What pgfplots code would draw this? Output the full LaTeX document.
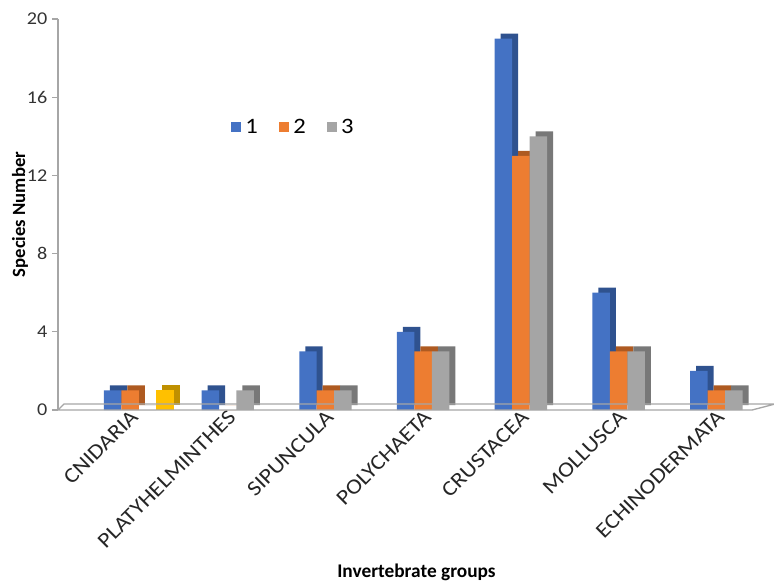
\documentclass[border=0pt]{standalone}
\usepackage{pgfplots}
\pgfplotsset{compat=1.18}
\usepackage{pgfplotstable}
\usepackage{fontspec}
\setmainfont{Carlito}
\newfontfamily\widefont{Carlito}[FakeStretch=1.12]
\definecolor{c1}{HTML}{4472C4}
\definecolor{c2}{HTML}{ED7D31}
\definecolor{c3}{HTML}{A5A5A5}
\definecolor{c4}{HTML}{FFC000}
\definecolor{d1}{HTML}{2F528F}
\definecolor{d2}{HTML}{AE5A21}
\definecolor{d3}{HTML}{787878}
\definecolor{d4}{HTML}{BF9000}
\definecolor{axgray}{HTML}{A6A6A6}
\pgfplotstableread{
x s1 s2 s3
0 1 1 0
1 1 0 1
2 3 1 1
3 4 3 3
4 19 13 14
5 6 3 3
6 2 1 1
}\datatable
\pgfplotstableread{
x s4
0 1
}\extratable
\begin{document}
\begin{tikzpicture}
\useasboundingbox (-43.5pt,-132.75pt) rectangle (537pt,307.5pt);
\begin{axis}[
  scale only axis,
  width=537.75pt, height=293.25pt,
  xmin=-0.737, xmax=6.6,
  ymin=0, ymax=20,
  ybar, bar width=13.1pt,
  clip=false,
  axis x line*=bottom, axis y line*=left,
  x axis line style={draw=none},
  y axis line style={axgray, line width=1pt, -},
  xtick={0,...,6},
  xticklabels={CNIDARIA,PLATYHELMINTHES,SIPUNCULA,POLYCHAETA,CRUSTACEA,MOLLUSCA,ECHINODERMATA},
  x tick style={draw=none},
  ytick={0,4,...,20},
  y tick style={axgray, line width=1pt},
  tick align=outside,
  major tick length=4.5pt,
  /pgf/number format/assume math mode=true,
  yticklabel style={font=\widefont\fontsize{13.5}{16}\selectfont, text=black!80},
  xticklabel style={font=\widefont\fontsize{16}{18}\selectfont, text=black!85, rotate=45, anchor=east, xshift=7pt, yshift=-1pt},
  every axis y label/.style={at={(rel axis cs:0,0.5)}, xshift=-28.5pt, rotate=90, anchor=center, font=\bfseries\fontsize{14}{16}\selectfont},
  every axis x label/.style={at={(rel axis cs:0.5,0)}, yshift=-122pt, anchor=center, font=\bfseries\fontsize{14.5}{16}\selectfont},
  ylabel={Species Number},
  xlabel={Invertebrate groups},
  legend columns=3,
  legend style={at={(0.236,0.724)}, anchor=west, draw=none, fill=none, font=\widefont\fontsize{16.5}{18}\selectfont, /tikz/every even column/.append style={column sep=14pt}, /tikz/every odd column/.append style={column sep=1pt}},
  legend image code/.code={\fill[#1] (0pt,-3.75pt) rectangle (7.5pt,3.75pt);},
]
% series 1
\addplot[fill=d1, draw=none, bar shift=-8.6pt, yshift=3.75pt, forget plot] table[x=x,y=s1]{\datatable};
\addplot[fill=c1, draw=none, bar shift=-13.1pt] table[x=x,y=s1]{\datatable};
\addlegendentry{1}
% series 2
\addplot[fill=d2, draw=none, bar shift=4.5pt, yshift=3.75pt, forget plot] table[x=x,y=s2]{\datatable};
\addplot[fill=c2, draw=none, bar shift=0pt] table[x=x,y=s2]{\datatable};
\addlegendentry{2}
% series 3
\addplot[fill=d3, draw=none, bar shift=17.6pt, yshift=3.75pt, forget plot] table[x=x,y=s3]{\datatable};
\addplot[fill=c3, draw=none, bar shift=13.1pt] table[x=x,y=s3]{\datatable};
\addlegendentry{3}
% extra bar
\addplot[fill=d4, draw=none, bar shift=30.7pt, yshift=3.75pt, forget plot] table[x=x,y=s4]{\extratable};
\addplot[fill=c4, draw=none, bar shift=26.2pt, forget plot] table[x=x,y=s4]{\extratable};
% floor
\draw[axgray, line width=1pt] (rel axis cs:0,0) -- (rel axis cs:0.968,0) -- ([yshift=4.5pt]rel axis cs:1,0) -- ([xshift=4.5pt,yshift=4.5pt]rel axis cs:0,0) -- (rel axis cs:0,0);
\end{axis}
\end{tikzpicture}
\end{document}
